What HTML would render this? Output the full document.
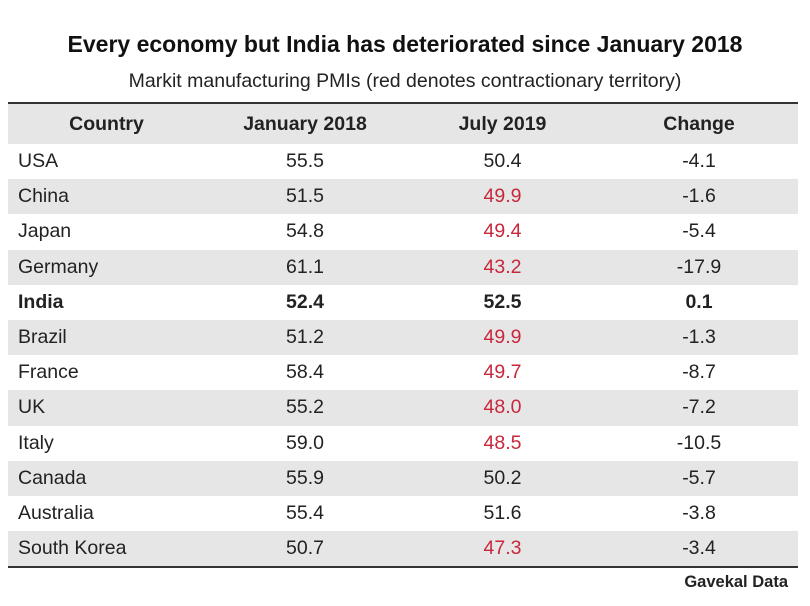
<!DOCTYPE html>
<html><head><meta charset="utf-8"><style>
body{margin:0;width:810px;height:606px;background:#fff;font-family:"Liberation Sans",sans-serif;color:#222;position:relative;overflow:hidden}
.t{position:absolute;left:0;width:810px;text-align:center;white-space:nowrap}
#title{top:31px;font-size:23px;font-weight:bold;color:#111}
#sub{top:70px;font-size:19.5px;color:#222}
table{position:absolute;left:8px;top:102px;width:790px;border-collapse:collapse;font-size:19.5px;border-top:2px solid #333;border-bottom:2px solid #333;table-layout:fixed}
td,th{height:35.2px;padding:0;text-align:center}
th{height:40px;background:#e6e6e6;font-weight:bold}
td:first-child{text-align:left;padding-left:10px}
tr.g td{background:#e6e6e6}
.r{color:#c8283c}
tr.b td{font-weight:bold}
#src{position:absolute;right:22px;top:573px;font-size:16.5px;font-weight:bold}
</style></head><body>
<div id="title" class="t">Every economy but India has deteriorated since January 2018</div>
<div id="sub" class="t">Markit manufacturing PMIs (red denotes contractionary territory)</div>
<table><colgroup><col style="width:197px"><col style="width:200px"><col style="width:195px"><col style="width:198px"></colgroup><thead><tr><th>Country</th><th>January 2018</th><th>July 2019</th><th>Change</th></tr></thead><tbody id="tb"></tbody></table>
<div id="src">Gavekal Data</div>
<script>
const countries=["USA","China","Japan","Germany","India","Brazil","France","UK","Italy","Canada","Australia","South Korea"];
const jan2018=["55.5","51.5","54.8","61.1","52.4","51.2","58.4","55.2","59.0","55.9","55.4","50.7"];
const jul2019=["50.4","49.9","49.4","43.2","52.5","49.9","49.7","48.0","48.5","50.2","51.6","47.3"];
const change=["-4.1","-1.6","-5.4","-17.9","0.1","-1.3","-8.7","-7.2","-10.5","-5.7","-3.8","-3.4"];
const tb=document.getElementById('tb');
countries.forEach((c,i)=>{
 const tr=document.createElement('tr');
 
 
 if(i%2===1)tr.className='g';
 if(c==='India')tr.className+=' b';
 const red=parseFloat(jul2019[i])<50;
 tr.innerHTML='<td>'+c+'</td><td>'+jan2018[i]+'</td><td'+(red?' class="r"':'')+'>'+jul2019[i]+'</td><td>'+change[i]+'</td>';
 tb.appendChild(tr);
});
</script>
</body></html>
